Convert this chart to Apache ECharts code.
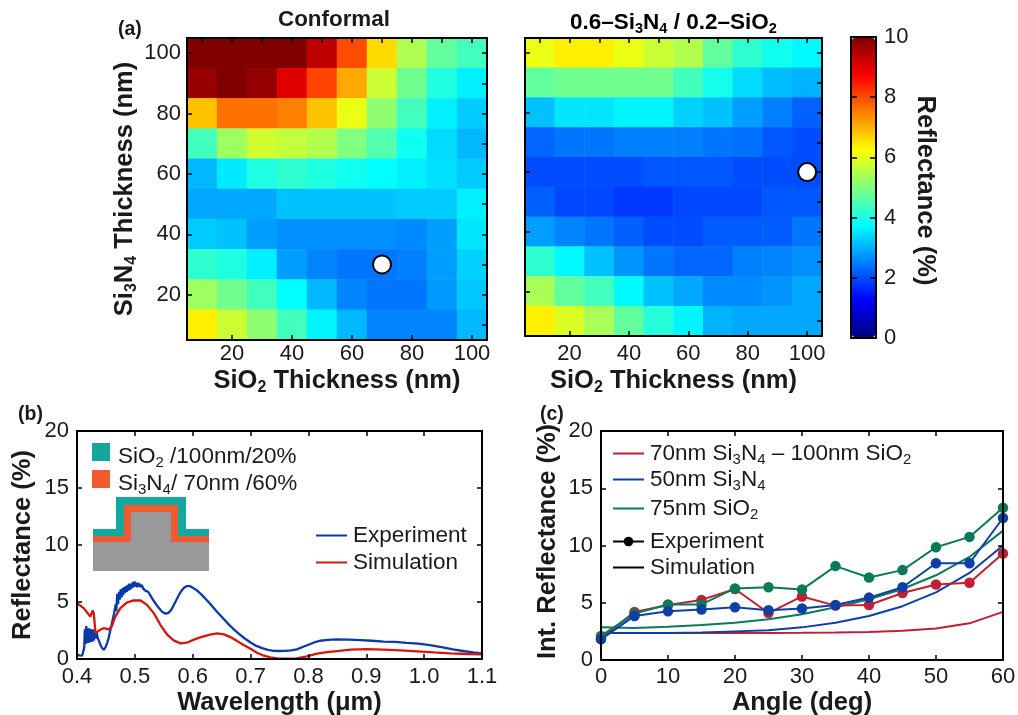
<!DOCTYPE html>
<html>
<head>
<meta charset="utf-8">
<title>Reflectance maps</title>
<style>
  html, body { margin: 0; padding: 0; background: #fff; }
  #main { width: 1018px; height: 715px; }
</style>
<script src="https://cdn.jsdelivr.net/npm/echarts@6/dist/echarts.min.js"></script>
</head>
<body>
<div id="main"></div>
<script>
// thickness categories of both maps (nm)
const thickness = [10, 20, 30, 40, 50, 60, 70, 80, 90, 100]

// reflectance maps, first row is Si3N4 = 100 nm, last row is 10 nm
const conformalRows = [
  [10, 10, 10, 10, 9.4, 8.0, 6.6, 5.45, 4.7, 4.4],
  [9.75, 10, 9.8, 9.05, 8.1, 7.1, 5.75, 4.85, 4.05, 3.6],
  [6.85, 7.65, 7.65, 7.5, 6.85, 6.05, 5.15, 4.4, 3.6, 3.25],
  [4.4, 5.3, 5.8, 5.65, 5.5, 5.0, 4.55, 3.9, 3.4, 3.05],
  [3.05, 3.55, 4.05, 4.2, 4.05, 3.9, 3.75, 3.6, 3.45, 3.25],
  [2.9, 2.9, 2.9, 3.15, 3.15, 3.15, 3.15, 3.25, 3.25, 3.6],
  [3.25, 3.15, 2.8, 2.65, 2.65, 2.65, 2.65, 2.6, 2.8, 3.5],
  [4.2, 4.05, 3.6, 2.8, 2.55, 2.4, 2.4, 2.5, 2.8, 3.3],
  [5.3, 4.85, 4.4, 3.75, 3.05, 2.55, 2.4, 2.4, 2.75, 3.2],
  [6.4, 5.75, 5.15, 4.4, 3.65, 3.05, 2.55, 2.55, 2.55, 3.05]
]
const gradedRows = [
  [6.05, 6.4, 6.4, 6.05, 5.75, 5.5, 4.7, 4.2, 3.9, 3.7],
  [4.7, 4.85, 4.85, 4.85, 4.85, 4.4, 3.95, 3.4, 3.1, 3.0],
  [3.15, 3.5, 3.5, 3.65, 3.65, 3.3, 3.15, 2.8, 2.5, 2.2],
  [2.25, 2.4, 2.4, 2.5, 2.5, 2.5, 2.4, 2.35, 2.1, 2.0],
  [2.0, 2.0, 2.0, 2.0, 2.1, 2.1, 2.1, 2.0, 2.0, 2.0],
  [2.2, 1.95, 1.95, 1.8, 1.8, 1.95, 1.95, 1.95, 2.1, 2.1],
  [2.8, 2.55, 2.4, 2.2, 2.0, 2.0, 2.15, 2.15, 2.15, 2.4],
  [4.2, 3.7, 3.15, 2.7, 2.4, 2.25, 2.25, 2.5, 2.55, 2.65],
  [5.4, 4.7, 4.4, 3.7, 3.15, 2.9, 2.6, 2.6, 2.7, 2.9],
  [6.4, 5.9, 5.4, 4.7, 4.1, 3.65, 3.0, 2.9, 2.9, 2.9]
]
// white optimum markers [SiO2, Si3N4]
const conformalBest = [[70, 30]]
const gradedBest = [[100, 60]]

// panel (b)
const expWavelength = [0.4, 0.405, 0.409, 0.411, 0.4125, 0.4135, 0.415, 0.416, 0.4175, 0.419, 0.42, 0.4215, 0.423, 0.4245, 0.426, 0.4275, 0.429, 0.43, 0.432, 0.434, 0.436, 0.438, 0.44, 0.443, 0.446, 0.449, 0.452, 0.455, 0.458, 0.461, 0.464, 0.467, 0.468, 0.4695, 0.471, 0.4725, 0.474, 0.4755, 0.477, 0.4785, 0.48, 0.4815, 0.483, 0.4845, 0.486, 0.4875, 0.489, 0.4905, 0.492, 0.4935, 0.495, 0.4965, 0.498, 0.4995, 0.501, 0.5025, 0.504, 0.5055, 0.507, 0.5085, 0.51, 0.512, 0.514, 0.516, 0.518, 0.52, 0.523, 0.526, 0.53, 0.534, 0.538, 0.542, 0.546, 0.55, 0.554, 0.558, 0.562, 0.566, 0.57, 0.575, 0.58, 0.585, 0.59, 0.595, 0.6, 0.605, 0.61, 0.62, 0.63, 0.64, 0.65, 0.66, 0.67, 0.68, 0.69, 0.7, 0.71, 0.72, 0.73, 0.74, 0.75, 0.76, 0.77, 0.78, 0.79, 0.8, 0.81, 0.82, 0.83, 0.84, 0.85, 0.87, 0.89, 0.91, 0.93, 0.95, 0.97, 0.99, 1.01, 1.03, 1.05, 1.07, 1.085, 1.1]
const expReflectance = [0.35, 0.32, 0.3, 0.35, 1.0, 2.6, 1.3, 2.9, 1.4, 2.7, 1.4, 2.7, 1.5, 2.6, 1.5, 2.6, 1.6, 2.5, 1.8, 2.3, 1.8, 1.6, 1.3, 1.0, 0.8, 1.0, 1.4, 1.9, 2.6, 3.3, 4.0, 4.8, 4.2, 5.7, 4.8, 5.9, 5.2, 6.1, 5.4, 6.2, 5.6, 6.3, 5.8, 6.4, 5.9, 6.5, 6.0, 6.6, 6.1, 6.6, 6.2, 6.75, 6.3, 6.8, 6.35, 6.7, 6.3, 6.7, 6.35, 6.6, 6.3, 6.5, 6.2, 6.3, 6.0, 6.1, 5.9, 5.65, 5.3, 5.0, 4.7, 4.45, 4.2, 4.05, 3.98, 4.05, 4.25, 4.6, 5.0, 5.5, 5.95, 6.25, 6.4, 6.4, 6.25, 6.1, 5.9, 5.4, 4.85, 4.25, 3.7, 3.15, 2.65, 2.2, 1.8, 1.45, 1.15, 0.95, 0.8, 0.72, 0.7, 0.72, 0.75, 0.85, 1.05, 1.25, 1.45, 1.6, 1.65, 1.7, 1.72, 1.7, 1.65, 1.6, 1.52, 1.5, 1.42, 1.35, 1.22, 1.05, 0.85, 0.68, 0.58, 0.5]
const simWavelength = [0.4, 0.4115, 0.423, 0.427, 0.429, 0.432, 0.434, 0.44, 0.446, 0.455, 0.46, 0.466, 0.475, 0.486, 0.498, 0.51, 0.521, 0.533, 0.544, 0.556, 0.567, 0.579, 0.59, 0.602, 0.613, 0.63, 0.642, 0.654, 0.665, 0.677, 0.688, 0.7, 0.711, 0.723, 0.734, 0.746, 0.763, 0.78, 0.797, 0.815, 0.832, 0.849, 0.873, 0.901, 0.93, 0.959, 0.988, 1.017, 1.045, 1.074, 1.1]
const simReflectance = [4.9, 4.46, 3.73, 4.25, 4.0, 2.27, 2.15, 2.56, 2.7, 2.6, 2.85, 3.7, 4.46, 4.95, 5.15, 5.13, 4.75, 4.0, 3.0, 2.13, 1.63, 1.37, 1.43, 1.7, 1.9, 2.13, 2.25, 2.16, 1.92, 1.57, 1.22, 0.9, 0.55, 0.29, 0.15, 0.06, 0.03, 0.06, 0.23, 0.47, 0.6, 0.7, 0.82, 0.87, 0.82, 0.76, 0.67, 0.58, 0.5, 0.44, 0.41]

// panel (c)
const angles = [0, 5, 10, 15, 20, 25, 30, 35, 40, 45, 50, 55, 60]
const expCombined = [1.9, 4.2, 4.8, 5.25, 6.2, 4.1, 5.55, 4.75, 4.8, 5.85, 6.6, 6.75, 9.3]
const expNitride = [1.8, 3.85, 4.25, 4.4, 4.6, 4.35, 4.5, 4.8, 5.45, 6.35, 8.45, 8.45, 12.4]
const expOxide = [2.1, 4.05, 4.85, 4.85, 6.25, 6.35, 6.15, 8.2, 7.2, 7.85, 9.85, 10.75, 13.3]
const simCombined = [2.35, 2.35, 2.35, 2.35, 2.35, 2.35, 2.37, 2.4, 2.45, 2.55, 2.75, 3.2, 4.2]
const simNitride = [2.35, 2.35, 2.35, 2.4, 2.5, 2.6, 2.85, 3.25, 3.85, 4.7, 5.9, 7.6, 10.0]
const simOxide = [2.85, 2.8, 2.9, 3.05, 3.25, 3.55, 4.0, 4.6, 5.3, 6.2, 7.4, 9.0, 11.3]

const nameCombined = '70nm Si3N4 – 100nm SiO2'
const nameNitride = '50nm Si3N4'
const nameOxide = '75nm SiO2'

const font = 'Liberation Sans'
const ink = '#1a1a1a'
// jet stops at every 1.25 % so that cyan, yellow and red land where the colour bar has them
const jet = ['#000080', '#0000ff', '#0080ff', '#00ffff', '#80ff80', '#ffff00', '#ff8000', '#ff0000', '#800000']

// rich text styles: n = normal, s = subscript, b = bold, bs = bold subscript
const rich = {
  n: { fontFamily: font, fontSize: 22.5, color: ink, lineHeight: 26 },
  s: { fontFamily: font, fontSize: 15, color: ink, lineHeight: 15, padding: [12, 0, 0, 0] },
  b: { fontFamily: font, fontSize: 25.5, fontWeight: 'bold', color: ink, lineHeight: 28 },
  bs: { fontFamily: font, fontSize: 16, fontWeight: 'bold', color: ink, lineHeight: 16, padding: [13, 0, 0, 0] },
  t: { fontFamily: font, fontSize: 22.5, fontWeight: 'bold', color: ink, lineHeight: 26 },
  ts: { fontFamily: font, fontSize: 14.5, fontWeight: 'bold', color: ink, lineHeight: 15, padding: [12, 0, 0, 0] }
}

const axisLine = { show: true, onZero: false, lineStyle: { color: '#000', width: 2 } }
const axisTick = { show: true, inside: true, length: 5, alignWithLabel: true, lineStyle: { color: '#000', width: 1.5 } }
const axisLabel = { color: ink, fontFamily: font, fontSize: 22, margin: 8 }

function axisTitle (text, gap, rotate, shift) {
  return {
    name: text,
    nameLocation: 'middle',
    nameGap: gap,
    nameRotate: rotate,
    nameTextStyle: { rich: rich, padding: [0, 0, 0, shift || 0] }
  }
}

// main axis with labels, plus the unlabelled mirror on the opposite side
function valueAxes (gridIndex, pos, mirrorPos, min, max, interval, margin, title, fmt) {
  return [
    Object.assign({
      type: 'value', gridIndex, position: pos, min, max, interval, z: 5,
      axisLine, axisTick, splitLine: { show: false },
      axisLabel: Object.assign({}, axisLabel, { formatter: fmt, margin })
    }, title),
    {
      type: 'value', gridIndex, position: mirrorPos, min, max, interval, z: 5,
      axisLine, axisTick, splitLine: { show: false }, axisLabel: { show: false }
    }
  ]
}

function thicknessAxes (gridIndex, pos, mirrorPos, labels, margin, title) {
  return [
    Object.assign({
      type: 'category', gridIndex, position: pos, data: thickness, z: 5,
      axisLine, axisTick, splitLine: { show: false },
      axisLabel: Object.assign({}, axisLabel, {
        show: labels,
        margin,
        interval: (i, v) => Number(v) % 20 === 0
      })
    }, title),
    {
      type: 'category', gridIndex, position: mirrorPos, data: thickness, z: 5,
      axisLine, axisTick, splitLine: { show: false }, axisLabel: { show: false }
    },
    // hidden value scale for the white markers
    { type: 'value', gridIndex, show: false, min: 5, max: 105 }
  ]
}

function cells (rows) {
  const out = []
  rows.forEach((row, r) => {
    row.forEach((v, c) => out.push([c, rows.length - 1 - r, v]))
  })
  return out
}

const grids = [
  { left: 187, top: 38, width: 300, height: 302 },
  { left: 525, top: 38, width: 297, height: 298 },
  { left: 851, top: 37, width: 25, height: 301 },
  { left: 77, top: 431, width: 405, height: 228 },
  { left: 601, top: 431, width: 402, height: 229 }
].map(g => Object.assign({ outerBoundsMode: 'none' }, g))

const xAxes = [
  ...thicknessAxes(0, 'bottom', 'top', true, 3, axisTitle('{b|SiO}{bs|2}{b| Thickness (nm)}', 27)),
  ...thicknessAxes(1, 'bottom', 'top', true, 7, axisTitle('{b|SiO}{bs|2}{b| Thickness (nm)}', 31)),
  { type: 'category', gridIndex: 2, position: 'bottom', z: 5, data: [''], axisLine, axisTick: { show: false }, axisLabel: { show: false } },
  { type: 'category', gridIndex: 2, position: 'top', z: 5, data: [''], axisLine, axisTick: { show: false }, axisLabel: { show: false } },
  ...valueAxes(3, 'bottom', 'top', 0.4, 1.1, 0.1, 7, axisTitle('{b|Wavelength (μm)}', 30), v => v.toFixed(1)),
  ...valueAxes(4, 'bottom', 'top', 0, 60, 10, 6, axisTitle('{b|Angle (deg)}', 29))
]

const yAxes = [
  ...thicknessAxes(0, 'left', 'right', true, 6, axisTitle('{b|Si}{bs|3}{b|N}{bs|4}{b| Thickness (nm)}', 48, 90)),
  ...thicknessAxes(1, 'left', 'right', false, 6, {}),
  Object.assign({
    type: 'value', gridIndex: 2, position: 'right', min: 0, max: 10, interval: 2, z: 5,
    axisLine, axisTick: Object.assign({}, axisTick, { length: 6 }), splitLine: { show: false },
    axisLabel
  }, axisTitle('{b|Reflectance (%)}', 33, -90, 6)),
  {
    type: 'value', gridIndex: 2, position: 'left', min: 0, max: 10, interval: 2, z: 5,
    axisLine, axisTick: Object.assign({}, axisTick, { length: 6 }), splitLine: { show: false }, axisLabel: { show: false }
  },
  ...valueAxes(3, 'left', 'right', 0, 20, 5, 8, axisTitle('{b|Reflectance (%)}', 40, 90)),
  ...valueAxes(4, 'left', 'right', 0, 20, 5, 8, axisTitle('{b|Int. Reflectance (%)}', 39, 90, 8))
]

// axis indices: map 0 uses 0-2, map 1 uses 3-5, colour bar 6-7, (b) 8-9, (c) 10-11
const pairs = (xs, ys) => xs.map((x, i) => [x, ys[i]])

function expSeries (name, values, color) {
  return {
    name, type: 'line', xAxisIndex: 10, yAxisIndex: 10, data: pairs(angles, values),
    symbol: 'circle', symbolSize: 10.5, showSymbol: true, silent: true,
    itemStyle: { color }, lineStyle: { color, width: 2 }, z: 4
  }
}
function simSeries (name, values, color) {
  return {
    name, type: 'line', xAxisIndex: 10, yAxisIndex: 10, data: pairs(angles, values),
    symbol: 'none', silent: true,
    itemStyle: { color }, lineStyle: { color, width: 2 }, z: 3
  }
}
function marker (data, xIdx, yIdx) {
  return {
    type: 'scatter', xAxisIndex: xIdx, yAxisIndex: yIdx, data,
    symbolSize: 18, silent: true, z: 6,
    itemStyle: { color: '#fff', borderColor: '#000', borderWidth: 2, opacity: 1 }
  }
}

const red = '#bf2033'
const blue = '#0d3fa6'
const green = '#0b7a56'

const series = [
  { type: 'heatmap', xAxisIndex: 0, yAxisIndex: 0, data: cells(conformalRows), silent: true },
  { type: 'heatmap', xAxisIndex: 3, yAxisIndex: 3, data: cells(gradedRows), silent: true },
  marker(conformalBest, 2, 2),
  marker(gradedBest, 5, 5),
  {
    name: 'Experiment ', type: 'line', xAxisIndex: 8, yAxisIndex: 8, data: pairs(expWavelength, expReflectance),
    symbol: 'none', silent: true, itemStyle: { color: '#0a3aa8' }, lineStyle: { color: '#0a3aa8', width: 2.3 }
  },
  {
    name: 'Simulation ', type: 'line', xAxisIndex: 8, yAxisIndex: 8, data: pairs(simWavelength, simReflectance),
    symbol: 'none', silent: true, itemStyle: { color: '#d3170c' }, lineStyle: { color: '#d3170c', width: 2.3 }
  },
  expSeries(nameCombined + ' exp', expCombined, red),
  simSeries(nameCombined, simCombined, red),
  expSeries(nameOxide + ' exp', expOxide, green),
  simSeries(nameOxide, simOxide, green),
  expSeries(nameNitride + ' exp', expNitride, blue),
  simSeries(nameNitride, simNitride, blue),
  // empty black series only feed the style legend of panel (c)
  {
    name: 'Experiment', type: 'line', xAxisIndex: 10, yAxisIndex: 10, data: [],
    symbol: 'circle', symbolSize: 10, itemStyle: { color: '#000' }, lineStyle: { color: '#000', width: 2 }
  },
  {
    name: 'Simulation', type: 'line', xAxisIndex: 10, yAxisIndex: 10, data: [],
    symbol: 'none', itemStyle: { color: '#000' }, lineStyle: { color: '#000', width: 2 }
  }
]

const legendText = {
  [nameCombined]: '{n|70nm Si}{s|3}{n|N}{s|4}{n| – 100nm SiO}{s|2}',
  [nameNitride]: '{n|50nm Si}{s|3}{n|N}{s|4}',
  [nameOxide]: '{n|75nm SiO}{s|2}',
  'Experiment': '{n|Experiment}',
  'Simulation': '{n|Simulation}',
  'Experiment ': '{n|Experiment}',
  'Simulation ': '{n|Simulation}'
}
// line series always draw a dot in their legend key, hidden for the plain line rows
function legendRow (name, left, top, dot) {
  return {
    data: [name], left, top, padding: 0, itemWidth: 31, itemHeight: 12, itemGap: 0,
    selectedMode: false, formatter: n => legendText[n],
    itemStyle: dot ? {} : { opacity: 0 },
    textStyle: { rich, padding: [0, 0, 0, 1] }
  }
}

const teal = '#12a89d'
const orange = '#f15a2e'
const grey = '#98999b'

const graphic = [
  { type: 'rect', shape: { x: 92, y: 443, width: 18, height: 18 }, style: { fill: teal } },
  { type: 'rect', shape: { x: 92, y: 470, width: 18, height: 18 }, style: { fill: orange } },
  {
    type: 'polygon',
    shape: { points: [[93, 529], [116, 529], [116, 497], [186, 497], [186, 529], [209, 529], [209, 536], [93, 536]] },
    style: { fill: teal }
  },
  {
    type: 'polygon',
    shape: { points: [[93, 536], [124, 536], [124, 505], [178, 505], [178, 536], [209, 536], [209, 542], [171, 542], [171, 512], [131, 512], [131, 542], [93, 542]] },
    style: { fill: orange }
  },
  {
    type: 'polygon',
    shape: { points: [[93, 542], [131, 542], [131, 512], [171, 512], [171, 542], [209, 542], [209, 571], [93, 571]] },
    style: { fill: grey }
  },
  { type: 'text', left: 118, top: 443, style: { text: '{n|SiO}{s|2}{n| /100nm/20%}', rich, fill: ink } },
  { type: 'text', left: 118, top: 470, style: { text: '{n|Si}{s|3}{n|N}{s|4}{n|/ 70nm /60%}', rich, fill: ink } },
  { type: 'text', left: 118, top: 20, style: { text: '(a)', fill: ink, font: 'bold 19.5px "Liberation Sans"' } },
  { type: 'text', left: 18, top: 405, style: { text: '(b)', fill: ink, font: 'bold 19.5px "Liberation Sans"' } },
  { type: 'text', left: 540, top: 405, style: { text: '(c)', fill: ink, font: 'bold 19.5px "Liberation Sans"' } },
  { type: 'text', left: 278, top: 9, style: { text: 'Conformal', fill: ink, font: 'bold 22.4px "Liberation Sans"' } },
  { type: 'text', left: 570, top: 9, style: { text: '{t|0.6–Si}{ts|3}{t|N}{ts|4}{t| / 0.2–SiO}{ts|2}', rich } }
]

const chart = echarts.init(document.getElementById('main'), null, { renderer: 'canvas' })
chart.setOption({
  animation: false,
  backgroundColor: '#fff',
  textStyle: { fontFamily: font },
  grid: grids,
  xAxis: xAxes,
  yAxis: yAxes,
  visualMap: {
    type: 'continuous', seriesIndex: [0, 1], min: 0, max: 10, calculable: false, realtime: false,
    left: 852, top: 38, itemWidth: 23, itemHeight: 299, padding: 0, text: null, showLabel: false,
    inRange: { color: jet }, textStyle: { fontSize: 0 }, hoverLink: false
  },
  legend: [
    legendRow('Experiment ', 315, 524),
    legendRow('Simulation ', 315, 551),
    legendRow(nameCombined, 612, 440),
    legendRow(nameNitride, 612, 466),
    legendRow(nameOxide, 612, 495),
    legendRow('Experiment', 612, 530, true),
    legendRow('Simulation', 612, 556)
  ],
  graphic,
  series
})
</script>
</body>
</html>
